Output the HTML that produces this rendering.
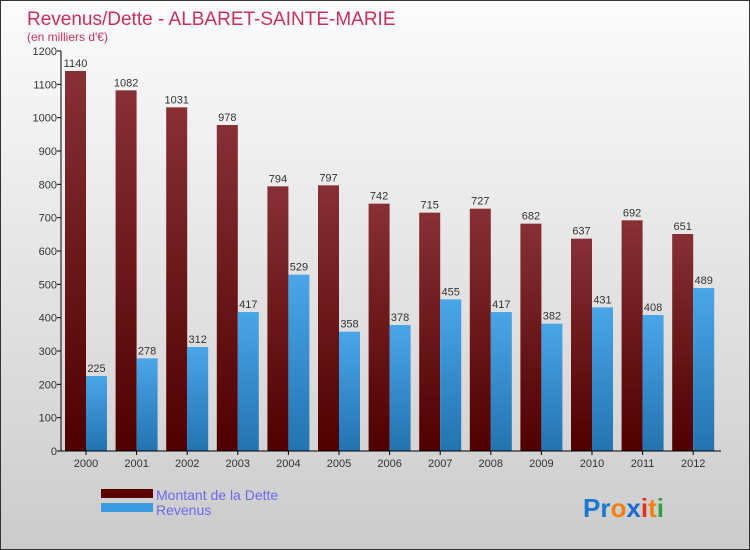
<!DOCTYPE html>
<html><head><meta charset="utf-8"><style>
body{margin:0}
#c{width:750px;height:550px;position:relative;overflow:hidden;box-sizing:border-box;border:1px solid #333;background:linear-gradient(#fcfcfc,#f2f2f2 20%,#d8d8d8 75%,#cbcbcb);font-family:"Liberation Sans",sans-serif}
text{font-family:"Liberation Sans",sans-serif}
</style></head><body>
<div id="c">
<svg width="750" height="550" id="svg">
<defs>
<linearGradient id="gd" x1="0" y1="0" x2="0" y2="1"><stop offset="0" stop-color="#873035"/><stop offset="1" stop-color="#4e0000"/></linearGradient>
<linearGradient id="gr" x1="0" y1="0" x2="0" y2="1"><stop offset="0" stop-color="#4aa6e8"/><stop offset="1" stop-color="#2373b0"/></linearGradient>
</defs>
<text x="26" y="24" font-size="19" fill="#c8305a">Revenus/Dette - ALBARET-SAINTE-MARIE</text>
<text x="26" y="40" font-size="12" fill="#c8305a">(en milliers d'€)</text>
<g id="bars"></g>
<g id="axes"></g>
<rect x="100" y="488" width="52" height="9" fill="#5a0000"/>
<rect x="100" y="502" width="52" height="9" fill="#3a9be0"/>
<text x="155" y="499" font-size="14" fill="#6a6aee">Montant de la Dette</text>
<text x="155" y="514" font-size="14" fill="#6a6aee">Revenus</text>
<text x="582" y="516" font-size="26" font-weight="bold"><tspan fill="#1a7ad0">Pr</tspan><tspan fill="#f08010">o</tspan><tspan fill="#1a6ad0">x</tspan><tspan fill="#e03020">i</tspan><tspan fill="#f08010">t</tspan><tspan fill="#30a040">i</tspan></text>
</svg>
</div>
<script>
const years=["2000","2001","2002","2003","2004","2005","2006","2007","2008","2009","2010","2011","2012"];
const dette=[1140,1082,1031,978,794,797,742,715,727,682,637,692,651];
const revenus=[225,278,312,417,529,358,378,455,417,382,431,408,489];
const yTicks=[0,100,200,300,400,500,600,700,800,900,1000,1100,1200];
const NS="http://www.w3.org/2000/svg";
const y0=450,yTop=50,yMax=1200;
function y(v){return y0-(v/yMax)*(y0-yTop);}
function xc(i){return 85+i*50.6;}
const bars=document.getElementById('bars'),axes=document.getElementById('axes');
function mk(tag,attrs,parent){const e=document.createElementNS(NS,tag);for(const k in attrs)e.setAttribute(k,attrs[k]);parent.appendChild(e);return e;}
years.forEach((yr,i)=>{
  const c=xc(i);
  const d=mk('rect',{x:c-21,y:y(dette[i]),width:21,height:y0-y(dette[i]),fill:'url(#gd)'},bars);
  
  
  const r=mk('rect',{x:c,y:y(revenus[i]),width:21,height:y0-y(revenus[i]),fill:'url(#gr)'},bars);
  
  
  const t1=mk('text',{x:c-10.5,y:y(dette[i])-4,'font-size':11,fill:'#333','text-anchor':'middle'},bars);t1.textContent=dette[i];
  
  
  const t2=mk('text',{x:c+10.5,y:y(revenus[i])-4,'font-size':11,fill:'#333','text-anchor':'middle'},bars);t2.textContent=revenus[i];
  
  
  const xl=mk('text',{x:c,y:466,'font-size':11,fill:'#333','text-anchor':'middle'},axes);xl.textContent=yr;
  
  
  mk('line',{x1:c,x2:c,y1:450,y2:454,stroke:'#000'},axes);
});
yTicks.forEach(v=>{
  mk('line',{x1:56,x2:60,y1:y(v),y2:y(v),stroke:'#000'},axes);
  const t=mk('text',{x:56,y:y(v)+4,'font-size':11,fill:'#333','text-anchor':'end'},axes);t.textContent=v;
  
  
});
const ya=mk('line',{x1:60,x2:60,y1:50,y2:450,stroke:'#000'},axes);


const xa=mk('line',{x1:60,x2:720,y1:450,y2:450,stroke:'#000'},axes);


</script>
</body></html>
